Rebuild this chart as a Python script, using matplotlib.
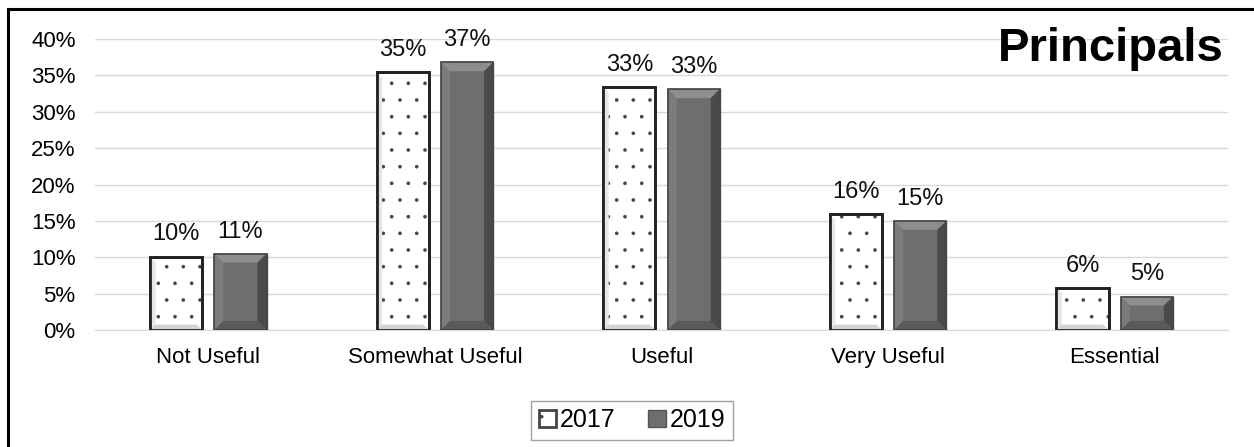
import matplotlib
matplotlib.use("Agg")
import matplotlib.pyplot as plt
from matplotlib.patches import Polygon, Rectangle
import numpy as np

plt.rcParams['font.family'] = ['Liberation Sans', 'DejaVu Sans']
plt.rcParams['hatch.linewidth'] = 0.2

categories = ["Not Useful", "Somewhat Useful", "Useful", "Very Useful", "Essential"]
vals_2017 = [10.1, 35.4, 33.4, 15.9, 5.8]
vals_2019 = [10.5, 36.8, 33.1, 15.0, 4.6]
labels_2017 = ["10%", "35%", "33%", "16%", "6%"]
labels_2019 = ["11%", "37%", "33%", "15%", "5%"]
yticks = [0, 5, 10, 15, 20, 25, 30, 35, 40]
series_names = ["2017", "2019"]

W, H = 1254, 447
fig = plt.figure(figsize=(W / 100, H / 100), dpi=100)
ax = fig.add_axes([95 / W, 1 - 330 / H, (1228 - 95) / W, (330 - 39) / H])

# outer frame (only top and left visible)
fig.patches.append(Rectangle((8 / W, -0.2), 1.5, 1 - 9 / H + 0.2, transform=fig.transFigure,
                             fill=False, edgecolor='black', linewidth=2.2, zorder=0))

x = np.arange(len(categories))
bw = 0.23
off = 0.142
b1 = ax.bar(x - off, vals_2017, bw, facecolor='white', edgecolor='#444444',
            linewidth=2.0, hatch='.', zorder=3, label=series_names[0])
b2 = ax.bar(x + off, vals_2019, bw, facecolor='#6e6e6e', edgecolor='#555555',
            linewidth=1.0, zorder=3, label=series_names[1])

ax.set_xlim(-0.5, len(categories) - 0.5)
ax.set_ylim(0, 40)

# bevel overlay for 2019 bars
bx = 9 / 226.5
by = 9 / ((330 - 39) / 40)
for r in b2.patches:
    x0, y0, w, h = r.get_x(), r.get_y(), r.get_width(), r.get_height()
    x1, y1 = x0 + w, y0 + h
    dx, dy = bx, min(by, h / 2.5)
    faces = [
        ([(x0, y1), (x1, y1), (x1 - dx, y1 - dy), (x0 + dx, y1 - dy)], '#8e8e8e'),
        ([(x0, y0), (x0, y1), (x0 + dx, y1 - dy), (x0 + dx, y0 + dy)], '#7c7c7c'),
        ([(x1, y0), (x1, y1), (x1 - dx, y1 - dy), (x1 - dx, y0 + dy)], '#4a4a4a'),
        ([(x0, y0), (x1, y0), (x1 - dx, y0 + dy), (x0 + dx, y0 + dy)], '#5a5a5a'),
    ]
    for pts, c in faces:
        ax.add_patch(Polygon(pts, closed=True, facecolor=c, edgecolor='none', zorder=3.5))
    ax.add_patch(Rectangle((x0, y0), w, h, fill=False, edgecolor='#444444', linewidth=1.2, zorder=3.6))

# subtle inner shading for 2017 bars
for r in b1.patches:
    x0, y0, w, h = r.get_x(), r.get_y(), r.get_width(), r.get_height()
    x1, y1 = x0 + w, y0 + h
    dx, dy = bx * 0.6, min(by * 0.6, h / 3)
    faces = [
        ([(x0, y0), (x0, y1), (x0 + dx, y1 - dy), (x0 + dx, y0 + dy)], '#e6e6e6'),
        ([(x0, y0), (x1, y0), (x1 - dx, y0 + dy), (x0 + dx, y0 + dy)], '#d4d4d4'),
    ]
    for pts, c in faces:
        ax.add_patch(Polygon(pts, closed=True, facecolor=c, edgecolor='none', zorder=3.2))
    ax.add_patch(Rectangle((x0, y0), w, h, fill=False, edgecolor='#222222', linewidth=2.0, zorder=3.6))

for rects, labs in ((b1, labels_2017), (b2, labels_2019)):
    for r, lab in zip(rects.patches, labs):
        ax.annotate(lab, (r.get_x() + r.get_width() / 2, r.get_height()),
                    xytext=(0, 8), textcoords='offset points', ha='center', va='bottom',
                    fontsize=17, color='#111111')

ax.set_yticks(yticks)
ax.set_yticklabels([f"{t}%" for t in yticks], fontsize=16)
ax.set_xticks(x)
ax.set_xticklabels(categories, fontsize=16)
ax.tick_params(axis='x', length=0, pad=12)
ax.tick_params(axis='y', length=0, pad=14)
ax.grid(axis='y', color='#d9d9d9', linewidth=1.0, zorder=0)
ax.set_axisbelow(True)
for s in ['top', 'right', 'left']:
    ax.spines[s].set_visible(False)
ax.spines['bottom'].set_color('#d9d9d9')

ax.text(0.996, 1.04, "Principals", transform=ax.transAxes, ha='right', va='top',
        fontsize=34, fontweight='bold', color='black')

leg = fig.legend(handles=[b1, b2], labels=series_names, loc='center',
                 bbox_to_anchor=(632 / W, 1 - 420 / H), ncol=2, fontsize=18,
                 frameon=True, fancybox=False, edgecolor='#888888',
                 handlelength=0.7, handleheight=0.7, handletextpad=0.15, columnspacing=1.3,
                 borderpad=0.3)
leg.get_frame().set_linewidth(1.0)

fig.savefig("out.png", dpi=100)
